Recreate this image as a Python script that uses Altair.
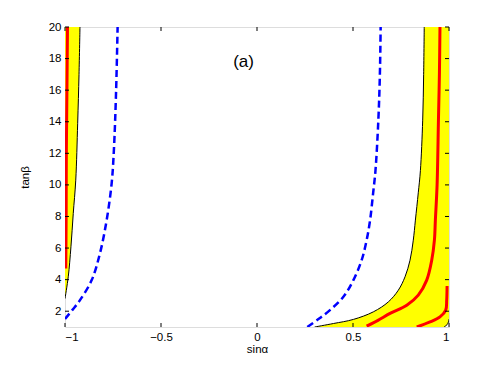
import altair as alt
import pandas as pd

# ---- data ----
# left black boundary (x, y)
blk_l_x = [-1.0, -0.983, -0.969, -0.957, -0.944, -0.934, -0.927, -0.922]
blk_l_y = [2.8, 4.18, 6.08, 8.19, 10.3, 13.9, 17.0, 20.0]
# right black boundary
blk_r_x = [0.300, 0.398, 0.502, 0.606, 0.684, 0.736, 0.771, 0.797, 0.814, 0.825, 0.840, 0.851, 0.863, 0.868, 0.871]
blk_r_y = [1.0, 1.22, 1.48, 1.96, 2.59, 3.33, 4.18, 5.23, 6.5, 7.77, 9.5, 10.9, 14.1, 17.0, 20.0]
# bottom-right corner black curve
blk_c_x = [0.974, 0.990, 0.997, 1.0]
blk_c_y = [1.0, 1.15, 1.32, 1.5]
# left red
red_l_x = [-0.996, -0.994, -0.993, -0.990, -0.987]
red_l_y = [4.7, 8.0, 12.0, 16.0, 20.0]
# right red (middle)
red_r_x = [0.571, 0.630, 0.693, 0.780, 0.840, 0.884, 0.910, 0.924, 0.929, 0.938, 0.945, 0.950, 0.953]
red_r_y = [1.05, 1.42, 1.86, 2.38, 3.02, 3.97, 5.23, 6.5, 7.77, 10.0, 14.1, 17.0, 20.0]
# right red (small)
red_s_x = [0.832, 0.901, 0.953, 0.983, 0.988, 0.990]
red_s_y = [1.0, 1.32, 1.64, 2.07, 2.7, 3.6]
# blue dashed left
blu_l_x = [-1.0, -0.991, -0.960, -0.922, -0.861, -0.818, -0.783, -0.757, -0.745, -0.734, -0.726]
blu_l_y = [1.5, 1.64, 2.1, 2.7, 3.97, 5.66, 7.77, 10.1, 12.3, 15.9, 20.0]
# blue dashed right
blu_r_x = [0.262, 0.320, 0.380, 0.450, 0.502, 0.545, 0.571, 0.589, 0.605, 0.617, 0.632, 0.640, 0.644]
blu_r_y = [1.0, 1.5, 2.07, 2.91, 3.97, 5.23, 6.5, 7.77, 9.5, 10.9, 14.1, 17.0, 20.0]

x_ticks = [-1, -0.5, 0, 0.5, 1]
y_ticks = [2, 4, 6, 8, 10, 12, 14, 16, 18, 20]
annot = "(a)"

W, H = 384, 300
FONT = "Liberation Sans"
INTERP = "catmull-rom"

xs = alt.Scale(domain=[-1, 1], nice=False, zero=False)
ys = alt.Scale(domain=[1, 20], nice=False, zero=False)
xaxis = alt.Axis(values=x_ticks, format="~g", title="sinα", tickSize=0, labelPadding=4,
                 domain=False, grid=False, titlePadding=1, titleFontWeight="normal",
                 labelFontSize=11.5, titleFontSize=11.5, labelFont=FONT, titleFont=FONT,
                 labelColor="black", titleColor="black")
yaxis = alt.Axis(values=y_ticks, format="~g", title="tanβ", tickSize=0, labelPadding=4,
                 domain=False, grid=False, titlePadding=18, titleFontWeight="normal",
                 labelFontSize=11.5, titleFontSize=11.5, labelFont=FONT, titleFont=FONT,
                 labelColor="black", titleColor="black")


def line_df(xv, yv):
    return pd.DataFrame({"x": xv, "y": yv, "i": list(range(len(xv)))})


def X(f="x"):
    return alt.X(f"{f}:Q", scale=xs, axis=xaxis)


def Y(f="y"):
    return alt.Y(f"{f}:Q", scale=ys, axis=yaxis)


# yellow areas
left_area = pd.DataFrame({"y": blk_l_y, "x": [-1.0] * len(blk_l_y), "x2": blk_l_x})
right_area = pd.DataFrame({"y": blk_r_y, "x": blk_r_x, "x2": [1.0] * len(blk_r_y)})
corner_area = pd.DataFrame({"y": blk_c_y, "x": blk_c_x, "x2": [1.0] * len(blk_c_y)})

layers = []
for df, col in [(left_area, "#FFFF00"), (right_area, "#FFFF00"), (corner_area, "white")]:
    layers.append(alt.Chart(df).mark_area(orient="horizontal", color=col, clip=True,
                                          interpolate=INTERP)
                  .encode(y=Y(), x=X(), x2="x2:Q"))


def line(xv, yv, color, width, dash=None):
    kw = dict(color=color, strokeWidth=width, clip=True, interpolate=INTERP)
    if dash:
        kw["strokeDash"] = dash
    return alt.Chart(line_df(xv, yv)).mark_line(**kw).encode(
        x=X(), y=Y(), order=alt.Order("i:Q"))


layers.append(line(blk_l_x, blk_l_y, "black", 1))
layers.append(line(blk_r_x, blk_r_y, "black", 1))
layers.append(line(blk_c_x, blk_c_y, "black", 1))
layers.append(line(red_l_x, red_l_y, "#FF0000", 3))
layers.append(line(red_r_x, red_r_y, "#FF0000", 3))
layers.append(line(red_s_x, red_s_y, "#FF0000", 3))
layers.append(line(blu_l_x, blu_l_y, "#0000FF", 2.5, [7, 4]))
layers.append(line(blu_r_x, blu_r_y, "#0000FF", 2.5, [7, 4]))

# inward tick marks (MATLAB style)
xt = pd.DataFrame({"t": x_ticks})
yt = pd.DataFrame({"t": y_ticks})
layers.append(alt.Chart(xt).mark_rule(color="black", strokeWidth=1).encode(
    x=alt.X("t:Q", scale=xs, axis=xaxis), y=alt.value(H), y2=alt.value(H - 4)))
layers.append(alt.Chart(xt).mark_rule(color="black", strokeWidth=1).encode(
    x=alt.X("t:Q", scale=xs, axis=xaxis), y=alt.value(0), y2=alt.value(4)))
layers.append(alt.Chart(yt).mark_rule(color="black", strokeWidth=1).encode(
    y=alt.Y("t:Q", scale=ys, axis=yaxis), x=alt.value(0), x2=alt.value(4)))
layers.append(alt.Chart(yt).mark_rule(color="black", strokeWidth=1).encode(
    y=alt.Y("t:Q", scale=ys, axis=yaxis), x=alt.value(W), x2=alt.value(W - 4)))

# annotation
ann = pd.DataFrame({"x": [-0.07], "y": [17.8], "t": [annot]})
layers.append(alt.Chart(ann).mark_text(fontSize=17, font=FONT, color="black").encode(
    x=X(), y=Y(), text="t:N"))

chart = alt.layer(*layers).properties(
    width=W, height=H,
    autosize=alt.AutoSizeParams(type="none"),
    padding={"left": 57, "top": 19, "right": 30, "bottom": 30},
).configure_view(stroke="black", strokeWidth=1).configure(background="white")

chart.save("out.html", embed_options={"renderer": "svg", "actions": False})
